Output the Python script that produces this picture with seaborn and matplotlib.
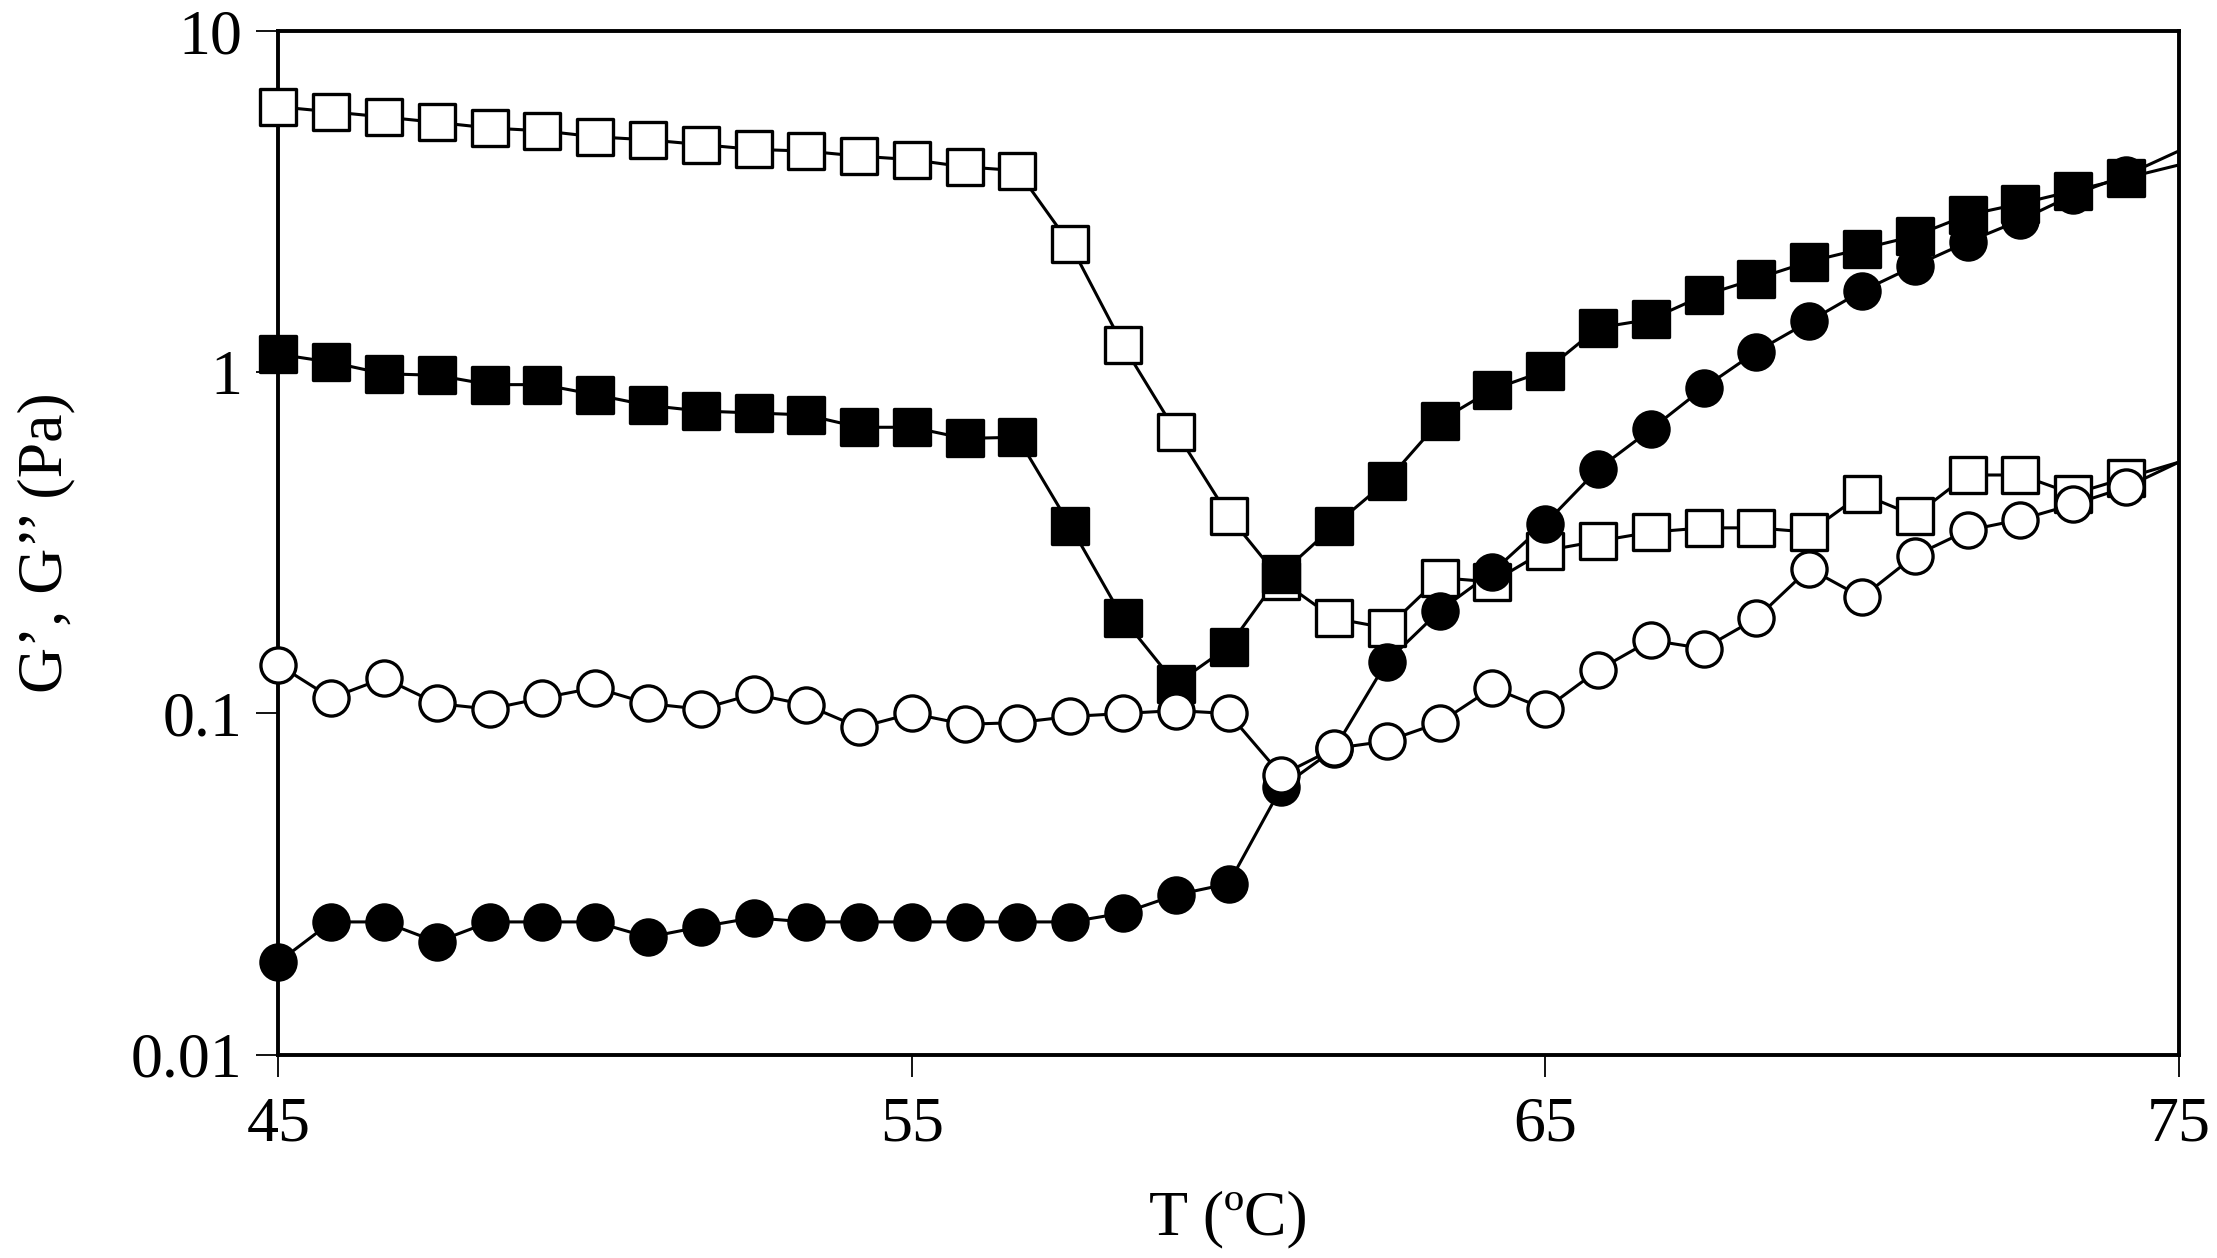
import numpy as np
import pandas as pd
import matplotlib
matplotlib.use("Agg")
import matplotlib.pyplot as plt
import seaborn as sns

# ---- data ----
T = [round(45 + i * 5 / 6, 3) for i in range(36)] + [75.0]

g1_open_sq = [6.0, 5.8, 5.6, 5.4, 5.2, 5.1, 4.9, 4.8, 4.65, 4.5, 4.45, 4.3, 4.2, 4.0, 3.9,
              2.37, 1.2, 0.67, 0.38, 0.245, 0.19, 0.178, 0.25, 0.243, 0.30, 0.32, 0.34,
              0.35, 0.35, 0.34, 0.44, 0.38, 0.50, 0.50, 0.44, 0.49, 0.545]
g2_filled_sq = [1.13, 1.07, 0.99, 0.98, 0.92, 0.92, 0.86, 0.80, 0.77, 0.76, 0.75, 0.69, 0.69,
                0.64, 0.645, 0.355, 0.19, 0.122, 0.157, 0.257, 0.355, 0.48, 0.72, 0.89, 1.01,
                1.35, 1.43, 1.68, 1.88, 2.11, 2.30, 2.51, 2.89, 3.12, 3.40, 3.71, 4.05]
g3_filled_ci = [0.0187, 0.0245, 0.0245, 0.0214, 0.0245, 0.0245, 0.0245, 0.0221, 0.0237, 0.0252,
                0.0245, 0.0245, 0.0245, 0.0245, 0.0245, 0.0245, 0.026, 0.0294, 0.0317, 0.0607,
                0.0785, 0.142, 0.20, 0.26, 0.36, 0.52, 0.68, 0.90, 1.15, 1.41, 1.73, 2.05,
                2.41, 2.79, 3.31, 3.78, 4.45]
g4_open_ci = [0.139, 0.111, 0.127, 0.107, 0.103, 0.111, 0.119, 0.107, 0.103, 0.114, 0.106,
              0.091, 0.10, 0.093, 0.094, 0.098, 0.10, 0.102, 0.10, 0.066, 0.079, 0.083,
              0.094, 0.119, 0.103, 0.134, 0.164, 0.155, 0.19, 0.266, 0.219, 0.29, 0.344,
              0.37, 0.41, 0.46, 0.545]

x_ticks = [45, 55, 65, 75]
y_ticks = [0.01, 0.1, 1, 10]
y_tick_labels = ["0.01", "0.1", "1", "10"]

series = [
    ("open_sq", g1_open_sq, "s", "white"),
    ("filled_sq", g2_filled_sq, "s", "black"),
    ("filled_ci", g3_filled_ci, "o", "black"),
    ("open_ci", g4_open_ci, "o", "white"),
]

sns.set_theme(style="white")
plt.rcParams["font.family"] = ["Liberation Serif", "DejaVu Serif"]

fig = plt.figure(figsize=(22.17, 12.58), dpi=100)
ax = fig.add_axes([0.1256, 0.1616, 0.9827 - 0.1256, 0.9753 - 0.1616])

for name, vals, mk, fc in series:
    df = pd.DataFrame({"T": T, "G": vals})
    sns.lineplot(data=df, x="T", y="G", ax=ax, color="black", linewidth=2.2,
                 estimator=None, sort=False, zorder=2)
    dfm = df.iloc[:-1]
    sns.scatterplot(data=dfm, x="T", y="G", ax=ax, marker=mk, s=640,
                    facecolor=fc, edgecolor="black", linewidth=2.4, zorder=3,
                    clip_on=False)

ax.set_yscale("log")
ax.set_xlim(45, 75)
ax.set_ylim(0.01, 10)
ax.set_xticks(x_ticks)
ax.set_xticklabels([str(v) for v in x_ticks])
ax.set_yticks(y_ticks)
ax.set_yticklabels(y_tick_labels)
ax.yaxis.set_minor_locator(matplotlib.ticker.NullLocator())

for sp in ax.spines.values():
    sp.set_visible(True)
    sp.set_color("black")
    sp.set_linewidth(2.8)

ax.tick_params(axis="both", which="major", direction="out", length=16, width=1.3,
               color="black", labelsize=46, labelcolor="black", pad=14,
               left=True, bottom=True)
ax.tick_params(axis="y", pad=10)

ax.set_xlabel("T (ºC)", fontsize=46, color="black", labelpad=26)
ax.set_ylabel("G’, G’’ (Pa)", fontsize=46, color="black", labelpad=40)
ax.grid(False)

fig.savefig("out.png", dpi=100, facecolor="white")
